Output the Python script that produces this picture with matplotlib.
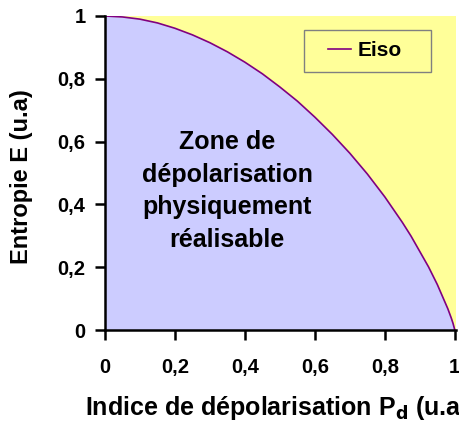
import matplotlib
matplotlib.use('Agg')
import matplotlib.pyplot as plt
from matplotlib.patches import Rectangle

plt.rcParams['font.family'] = ['Liberation Sans', 'DejaVu Sans']
plt.rcParams['font.weight'] = 'bold'

# valeurs
pd_vals = [0, 0.05, 0.1, 0.15, 0.2, 0.25, 0.3, 0.35, 0.4, 0.45, 0.5, 0.55, 0.6, 0.65, 0.7,
           0.75, 0.8, 0.85, 0.875, 0.9, 0.925, 0.95, 0.98, 0.99, 0.995, 1.0]
e_iso = [1.0, 0.997, 0.990, 0.978, 0.961, 0.940, 0.915, 0.886, 0.853, 0.816, 0.774, 0.729, 0.678, 0.623, 0.563,
         0.497, 0.424, 0.343, 0.299, 0.250, 0.201, 0.145, 0.068, 0.038, 0.021, 0.0]
ticks = [0, 0.2, 0.4, 0.6, 0.8, 1]
tick_labels = ['0', '0,2', '0,4', '0,6', '0,8', '1']

yellow = '#FFFF99'
lavender = '#CCCCFF'
purple = '#800080'

fig = plt.figure(figsize=(4.6, 4.21), dpi=100)
ax = fig.add_axes([0.228, 0.216, 0.763, 0.746])
ax.set_facecolor(yellow)
ax.fill_between(pd_vals, 0, e_iso, color=lavender, lw=0)
ax.plot(pd_vals, e_iso, color=purple, lw=1.2, label='Eiso')

ax.set_xlim(0, 1.003)
ax.set_ylim(0, 1)
ax.set_xticks(ticks)
ax.set_xticklabels(tick_labels)
ax.set_yticks(ticks)
ax.set_yticklabels(tick_labels)
for s in ['top', 'right']:
    ax.spines[s].set_visible(False)
for s in ['left', 'bottom']:
    ax.spines[s].set_linewidth(1.8)
ax.tick_params(direction='out', length=7, width=1.8, labelsize=14.5, pad=7)
ax.tick_params(axis='x', pad=13)

ax.set_xlabel('Indice de dépolarisation P$_\\mathbf{d}$ (u.a)', fontsize=18, fontweight='bold')
ax.set_ylabel('Entropie E (u.a)', fontsize=17, fontweight='bold')
ax.xaxis.set_label_coords(0.49, -0.205)
ax.yaxis.set_label_coords(-0.206, 0.49)

ax.text(0.35, 0.443, 'Zone de\ndépolarisation\nphysiquement\nréalisable',
        ha='center', va='center', fontsize=18, fontweight='bold', linespacing=1.45)

# légende : cadre + entrée
ax.add_patch(Rectangle((0.566, 0.822), 0.363, 0.133, transform=ax.transAxes,
                       facecolor='none', edgecolor='#808080', lw=1.0, zorder=5))
ax.legend(loc='center left', bbox_to_anchor=(0.637, 0.889), fontsize=15, frameon=False,
          handlelength=1.1, handletextpad=0.3, borderpad=0, borderaxespad=0)

fig.savefig('out.png', dpi=100)
